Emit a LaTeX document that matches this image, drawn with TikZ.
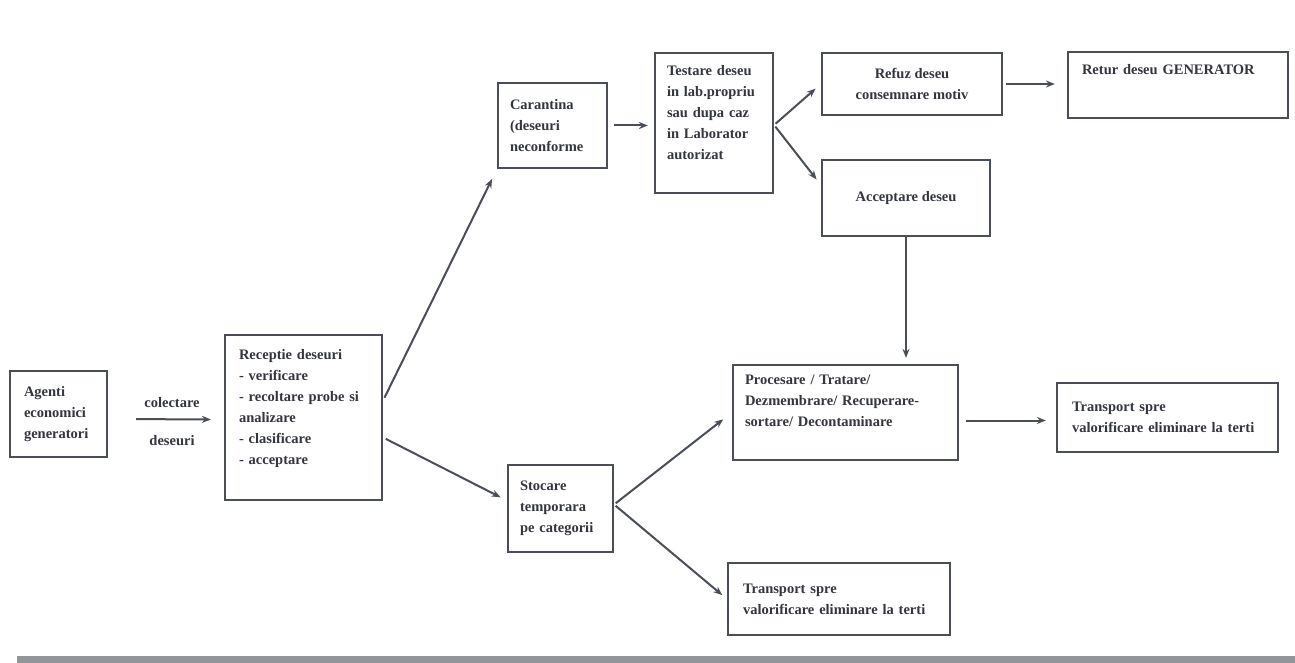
\documentclass[tikz,border=0pt]{standalone}
\usepackage{fontspec}
\setmainfont{Liberation Serif}
\usetikzlibrary{arrows.meta,calc}
\definecolor{ink}{HTML}{4A4E57}
\definecolor{txt}{HTML}{33363D}
\begin{document}
\begin{tikzpicture}[x=1pt,y=-1pt,
  box/.style={draw=ink,line width=2.2pt,inner ysep=0pt,align=left,text=txt,
    font=\bfseries\fontsize{14.5}{21}\selectfont},
  lbl/.style={text=txt,inner sep=0pt,font=\bfseries\fontsize{14.5}{21}\selectfont},
  conn/.style={draw=ink,line width=2pt,-{Stealth[length=9pt,width=7pt]}},
]
\useasboundingbox[fill=white] (0,0) rectangle (1295,663);
\fill[ink!60] (17,656) rectangle (1295,663);

\node[box,minimum width=97,minimum height=86,inner xsep=14,text width=69] (ag) at (58.5,414)
  {Agenti\\economici\\generatori};
\node[box,minimum width=157,minimum height=165,inner xsep=14,text width=129] (rec) at (303.5,417.5)
  {Receptie deseuri\\- verificare\\- recoltare probe si\\analizare\\- clasificare\\- acceptare\\[-6pt]\strut};
\node[box,minimum width=109,minimum height=85,inner xsep=12,text width=85] (car) at (552.5,125.5)
  {Carantina\\(deseuri\\neconforme};
\node[box,minimum width=118,minimum height=140,inner xsep=12,text width=94] (test) at (714,123)
  {Testare deseu\\in lab.propriu\\sau dupa caz\\in Laborator\\autorizat\\[-6pt]\strut};
\node[box,minimum width=180,minimum height=62,align=center] (ref) at (912,84)
  {Refuz deseu\\consemnare motiv};
\node[box,minimum width=220,minimum height=66,inner xsep=14,text width=192] (ret) at (1178,85)
  {Retur deseu GENERATOR\\[4pt]\strut};
\node[box,minimum width=168,minimum height=76,align=center] (acc) at (906,198)
  {Acceptare deseu};
\node[box,minimum width=225,minimum height=95,inner xsep=12,text width=201] (proc) at (845.5,412.5)
  {Procesare / Tratare/\\Dezmembrare/ Recuperare-\\sortare/ Decontaminare\\[-4pt]\strut};
\node[box,minimum width=221,minimum height=69,inner xsep=15,text width=191] (tr) at (1167.5,417.5)
  {Transport spre\\valorificare eliminare la terti};
\node[box,minimum width=105,minimum height=87,inner xsep=12,text width=81] (sto) at (560.5,508.5)
  {Stocare\\temporara\\pe categorii};
\node[box,minimum width=222,minimum height=72,inner xsep=15,text width=192] (tb) at (839,599)
  {Transport spre\\valorificare eliminare la terti};

\node[lbl] (col) at (172,403) {colectare};
\node[lbl] (des) at (172,441) {deseuri};

\draw[conn,shorten <=28pt,shorten >=13pt] ([yshift=-5pt]ag.east) -- ([yshift=-2pt]rec.west);
\draw[conn,shorten <=3pt,shorten >=11pt] ([yshift=17pt]rec.east) -- (car.south west);
\draw[conn,shorten <=3pt,shorten >=7pt] ([yshift=-20pt]rec.east) -- ([yshift=8pt]sto.west);
\draw[conn,shorten <=6pt,shorten >=6pt] (car.east) -- (car.east -| test.west);
\draw[conn,shorten <=2pt,shorten >=7pt] ([yshift=-2pt]test.east) -- (ref.west);
\draw[conn,shorten <=2pt,shorten >=7pt] ([yshift=-2pt]test.east) -- ([yshift=13pt]acc.west);
\draw[conn,shorten <=3pt,shorten >=12pt] (ref.east) -- (ref.east -| ret.west);
\draw[conn,shorten >=6pt] (acc.south) -- (acc.south |- proc.north);
\draw[conn,shorten <=7pt,shorten >=10pt] ([yshift=-8pt]proc.east) -- ([yshift=-8pt]proc.east -| tr.west);
\draw[conn,shorten <=2pt,shorten >=11pt] ([yshift=4pt]sto.east) -- (proc.west);
\draw[conn,shorten <=2pt,shorten >=6pt] ([yshift=4pt]sto.east) -- (tb.west);
\end{tikzpicture}
\end{document}
